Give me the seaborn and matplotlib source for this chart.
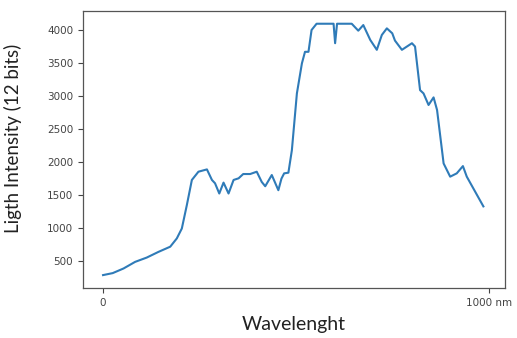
import matplotlib
matplotlib.use("Agg")
import matplotlib.pyplot as plt
import seaborn as sns
import pandas as pd

# ------------------------------------------
# Spectrum values
# ------------------------------------------
wavelength = [0, 25, 53, 83, 113, 143, 174, 191, 204, 217, 230, 247, 269, 282,
              290, 301, 312, 325, 338, 351, 363, 381, 398, 411, 420, 437, 454,
              462, 469, 480, 489, 502, 515, 523, 532, 540, 553, 597, 601, 606,
              644, 661, 674, 692, 709, 722, 735, 749, 756, 774, 787, 800, 808,
              821, 830, 843, 856, 865, 882, 899, 916, 932, 942, 985]
intensity = [290, 320, 390, 490, 555, 640, 720, 845, 995, 1350, 1730, 1855, 1890, 1730,
             1680, 1525, 1690, 1525, 1730, 1755, 1820, 1820, 1855, 1700, 1635, 1805, 1575,
             1750, 1830, 1840, 2180, 3040, 3495, 3670, 3670, 4000, 4095, 4095, 3800, 4095,
             4095, 3990, 4075, 3850, 3700, 3925, 4025, 3950, 3840, 3700, 3750, 3800, 3750,
             3090, 3040, 2865, 2980, 2790, 1980, 1780, 1830, 1940, 1780, 1330]

x_ticks = [0, 1000]
x_tick_labels = ["0", "1000 nm"]
y_ticks = [500, 1000, 1500, 2000, 2500, 3000, 3500, 4000]

df = pd.DataFrame({"Wavelength": wavelength, "Intensity": intensity})

# ------------------------------------------
# Plot
# ------------------------------------------
fig = plt.figure(figsize=(5.17, 3.38), dpi=100)
ax = fig.add_axes([0.1605, 0.148, 0.8163, 0.8195])

sns.lineplot(data=df, x="Wavelength", y="Intensity", ax=ax,
             color="#2f7bb8", linewidth=1.5)

ax.set_xlim(-52, 1041)
ax.set_ylim(95, 4288)
ax.set_xticks(x_ticks)
ax.set_xticklabels(x_tick_labels)
ax.set_yticks(y_ticks)
ax.tick_params(labelsize=7.5, colors="#444444", length=3.5)

for s in ax.spines.values():
    s.set_color("#555555")
    s.set_linewidth(0.9)

ax.set_xlabel("Wavelenght", fontsize=14, family=["Lato", "DejaVu Sans"], color="#222222")
ax.set_ylabel("Ligth Intensity (12 bits)", fontsize=13.5, family=["Lato", "DejaVu Sans"],
              color="#222222")
ax.xaxis.set_label_coords(0.5, -0.10)
ax.yaxis.set_label_coords(-0.145, 0.54)

fig.savefig("out.png", dpi=100)
